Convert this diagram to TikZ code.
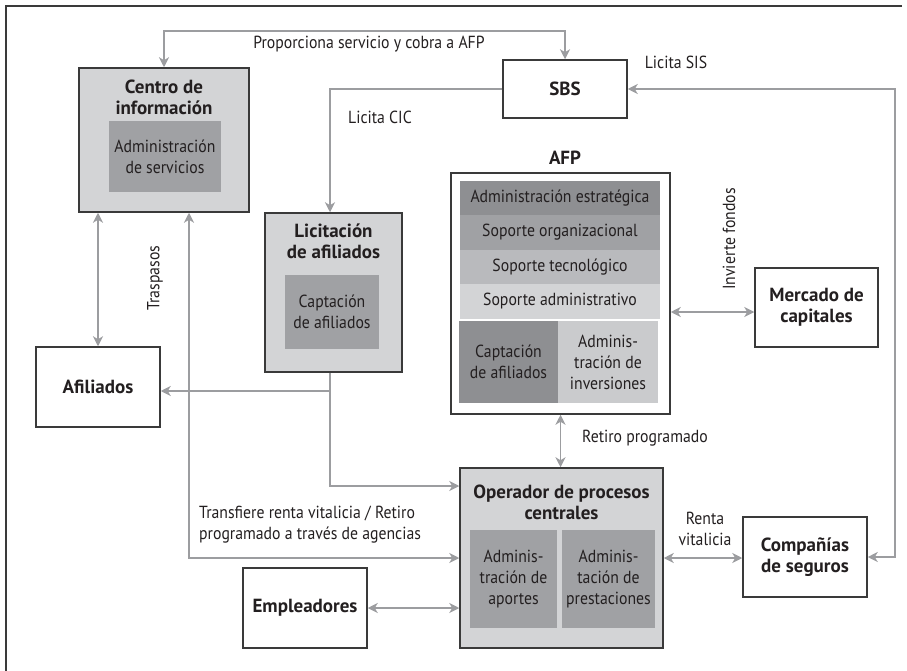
\documentclass[tikz,border=0pt]{standalone}
\usepackage{fontspec}
\setmainfont{PT Sans}[FakeStretch=0.9]
\newfontfamily\headfont{PT Sans}[FakeStretch=1.0]
\usetikzlibrary{arrows.meta, positioning}
\definecolor{boxline}{HTML}{3A3A3A}
\definecolor{flowgray}{HTML}{9C9DA0}
\definecolor{lightfill}{HTML}{D3D4D6}
\definecolor{midfill}{HTML}{A0A1A4}
\definecolor{darkfill}{HTML}{8E8F92}
\definecolor{paleafill}{HTML}{B9BABD}
\definecolor{palebfill}{HTML}{CACBCD}
\definecolor{inktext}{HTML}{231F20}

\begin{document}
\begin{tikzpicture}[x=1pt,y=-1pt,
  every node/.style={text=inktext,font=\fontsize{17.5}{21}\selectfont},
  box/.style={draw=boxline,line width=1.5pt,fill=white,inner sep=0pt,align=center},
  greybox/.style={box,fill=lightfill},
  part/.style={fill=midfill,inner sep=0pt,align=center},
  head/.style={font=\headfont\bfseries\fontsize{19}{21}\selectfont,align=center},
  flow/.style={draw=flowgray,line width=1.5pt,
    arrows={-},>={Stealth[length=10pt,width=10pt,inset=3pt]}},
  tag/.style={align=center,inner sep=0pt}]
\useasboundingbox (0,0) rectangle (907,671);

% Frame
\draw[boxline,line width=1.8pt] (902,6) -- (6,6) -- (6,671);

% Centro de informacion
\node[greybox,minimum width=170,minimum height=144] (centro) at (164,140) {};
\node[head] (centrohead) at (164,97) {Centro de\\información};
\node[part,minimum width=112,minimum height=71] (centroadm) at (165,157) {Administración\\de servicios};

% SBS
\node[box,minimum width=124,minimum height=58,head] (sbs) at (565,89) {SBS};

% Licitacion de afiliados
\node[greybox,minimum width=137,minimum height=159] (lic) at (333.5,292.5) {};
\node[head] (lichead) at (333.5,241) {Licitación\\de afiliados};
\node[part,minimum width=94,minimum height=74] (liccapt) at (332,312) {Captación\\de afiliados};

% AFP
\node[head] (afphead) at (565,158) {AFP};
\node[box,minimum width=219,minimum height=241] (afp) at (560.5,293.5) {};
\node[part,fill=darkfill,minimum width=200,minimum height=34.4] (afp1) at (560,198.2) {Administración estratégica};
\node[part,minimum width=200,minimum height=34.4] (afp2) at (560,232.6) {Soporte organizacional};
\node[part,fill=paleafill,minimum width=200,minimum height=34.4] (afp3) at (560,267) {Soporte tecnológico};
\node[part,fill=lightfill,minimum width=200,minimum height=34.4] (afp4) at (560,301.4) {Soporte administrativo};
\node[part,fill=darkfill,minimum width=99,minimum height=82] (afp5) at (508.5,362) {Captación\\de afiliados};
\node[part,fill=palebfill,minimum width=100,minimum height=82] (afp6) at (608,362) {Adminis-\\tración de\\inversiones};

% Mercado de capitales
\node[box,minimum width=123,minimum height=79,head] (mercado) at (816.5,307.5) {Mercado de\\capitales};

% Afiliados
\node[box,minimum width=124,minimum height=80,head] (afiliados) at (98,387) {Afiliados};

% Operador de procesos centrales
\node[greybox,minimum width=203,minimum height=180] (operador) at (561.5,558) {};
\node[head] (ophead) at (561.5,502) {Operador de procesos\\centrales};
\node[part,minimum width=87,minimum height=98] (opaportes) at (513.5,579) {Adminis-\\tración de\\aportes};
\node[part,minimum width=93,minimum height=98] (opprest) at (608.5,579) {Adminis-\\tación de\\prestaciones};

% Empleadores, Companias de seguros
\node[box,minimum width=124,minimum height=80,head] (empleadores) at (305,608) {Empleadores};
\node[box,minimum width=124,minimum height=80,head] (companias) at (805,557) {Compañías\\de seguros};

% Connectors
\coordinate (topline) at (164,31);
\coordinate (sisline) at (895,89);
\coordinate (licbranch) at (330,391);
\draw[flow,<->] (sbs.north) |- (topline) -- (centro.north);
\draw[flow,->] (sbs.west) -| ([xshift=-3.5pt]lic.north);
\draw[flow,<->] (sbs.east) -- (sisline) |- (companias.east);
\draw[flow,<->] ([yshift=-18.5pt]afp.east) -- ([yshift=-18.5pt]afp.east -| mercado.west);
\draw[flow,<->] (afiliados.north) -- (afiliados.north |- centro.south);
\draw[flow,<->] ([xshift=25pt]centro.south) |- (operador.west);
\draw[flow,->] ([xshift=-3.5pt]lic.south) |- ([yshift=72pt]operador.west);
\draw[flow,->] (licbranch) -- (afiliados.east |- licbranch);
\draw[flow,<->] (empleadores.east) -- (empleadores.east -| operador.west);
\draw[flow,<->] (afp.south) -- (afp.south |- operador.north);
\draw[flow,<->] (operador.east) -- (operador.east -| companias.west);

% Labels
\node[tag] (lblprop) at (369,44) {Proporciona servicio y cobra a AFP};
\node[tag] (lblcic) at (380,117) {Licita CIC};
\node[tag] (lblsis) at (676,62) {Licita SIS};
\node[tag,rotate=90] (lblfondos) at (729,239) {Invierte fondos};
\node[tag,rotate=90] (lbltrasp) at (155,278) {Traspasos};
\node[tag,align=left,anchor=west] (lbltransf) at (199,524.5) {Transfiere renta vitalicia / Retiro\\programado a través de agencias};
\node[tag] (lblretiro) at (645,438) {Retiro programado};
\node[tag] (lblrenta) at (705,528.5) {Renta\\vitalicia};
\end{tikzpicture}
\end{document}
